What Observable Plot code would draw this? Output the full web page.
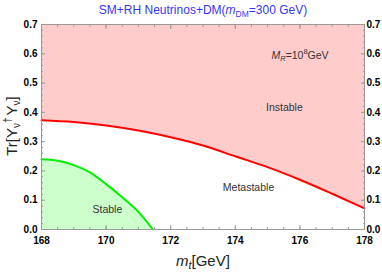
<!DOCTYPE html>
<html><head><meta charset="utf-8">
<script src="https://cdn.jsdelivr.net/npm/d3@7"></script>
<script src="https://cdn.jsdelivr.net/npm/@observablehq/plot@0.6"></script>
<style>body{margin:0;background:#fff} svg{display:block}</style>
</head><body><div id="chart"></div>
<script>
// Data
const redX = [168, 169, 170, 171, 172, 173, 174, 175, 176, 177, 178];
const redY = [0.373, 0.367, 0.355, 0.338, 0.315, 0.287, 0.250, 0.213, 0.170, 0.122, 0.072];
const greenX = [168, 168.5, 169, 169.5, 170, 170.5, 171, 171.45];
const greenY = [0.240, 0.235, 0.220, 0.195, 0.155, 0.110, 0.060, 0.0];
const xTicks = [168, 170, 172, 174, 176, 178];
const yTicks = [0, 0.1, 0.2, 0.3, 0.4, 0.5, 0.6, 0.7];
const regionNames = ["Instable", "Metastable", "Stable"];
const regionX = [175.52, 174.41, 170.04];
const regionY = [0.417, 0.144, 0.068];
const mrX = 176.02, mrY = 0.593;

const red = redX.map((x, i) => ({x, y: redY[i]}));
const green = greenX.map((x, i) => ({x, y: greenY[i]}));
const regions = regionNames.map((name, i) => ({name, x: regionX[i], y: regionY[i]}));
const minorX = d3.range(168, 178.001, 0.5);
const minorY = d3.range(0, 0.7001, 0.02);

const tickStroke = "#999";
const labelFont = {fontWeight: "bold", fontSize: 10};

const plot = Plot.plot({
  width: 382, height: 273,
  marginLeft: 41, marginRight: 18, marginTop: 24, marginBottom: 44,
  x: {domain: [168, 178]},
  y: {domain: [0, 0.7]},
  style: {fontFamily: "'Liberation Sans', Arial, sans-serif", background: "white", color: "black"},
  marks: [
    Plot.areaY(red, {x: "x", y1: "y", y2: 0.7, fill: "#ffcccc", curve: "monotone-x"}),
    Plot.areaY(green, {x: "x", y1: 0, y2: "y", fill: "#ccffcc", curve: "monotone-x"}),
    Plot.line(red, {x: "x", y: "y", stroke: "#ff0000", strokeWidth: 2, curve: "monotone-x"}),
    Plot.line(green, {x: "x", y: "y", stroke: "#00ee00", strokeWidth: 2, curve: "monotone-x"}),
    Plot.frame({stroke: tickStroke}),
    // major ticks (inward)
    Plot.axisX({anchor: "bottom", ticks: xTicks, tickSize: -4, stroke: tickStroke, fill: "none", label: null}),
    Plot.axisX({anchor: "top", ticks: xTicks, tickSize: -4, stroke: tickStroke, fill: "none", label: null}),
    Plot.axisY({anchor: "left", ticks: yTicks, tickSize: -4, stroke: tickStroke, fill: "none", label: null}),
    Plot.axisY({anchor: "right", ticks: yTicks, tickSize: -4, stroke: tickStroke, fill: "none", label: null}),
    // minor ticks
    Plot.axisX({anchor: "bottom", ticks: minorX, tickSize: -2, stroke: tickStroke, fill: "none", label: null}),
    Plot.axisX({anchor: "top", ticks: minorX, tickSize: -2, stroke: tickStroke, fill: "none", label: null}),
    Plot.axisY({anchor: "left", ticks: minorY, tickSize: -2, stroke: tickStroke, fill: "none", label: null}),
    Plot.axisY({anchor: "right", ticks: minorY, tickSize: -2, stroke: tickStroke, fill: "none", label: null}),
    // tick labels
    Plot.axisX({anchor: "bottom", ticks: xTicks, tickSize: 0, tickPadding: 7, tickFormat: "d", label: null, ...labelFont}),
    Plot.axisY({anchor: "left", ticks: yTicks, tickSize: 0, tickPadding: 4, tickFormat: ".1f", label: null, ...labelFont}),
    Plot.axisY({anchor: "right", ticks: yTicks, tickSize: 0, tickPadding: 2, tickFormat: ".1f", label: null, ...labelFont}),
    // region labels
    Plot.text(regions, {x: "x", y: "y", text: "name", fontSize: 10.5, fill: "#333"})
  ]
});

document.getElementById("chart").appendChild(plot);
const svg = d3.select(plot);
const sx = plot.scale("x"), sy = plot.scale("y");
const font = "'Liberation Sans', Arial, sans-serif";

// Title
const t = svg.append("text").attr("x", 203).attr("y", 14).attr("text-anchor", "middle")
  .attr("font-family", font).attr("font-size", 12).attr("fill", "#3535ff");
t.append("tspan").text("SM+RH Neutrinos+DM(");
t.append("tspan").attr("font-style", "italic").text("m");
t.append("tspan").attr("font-size", 8.5).attr("dy", 3).text("DM");
t.append("tspan").attr("dy", -3).text("=300 GeV)");

// x label
const xl = svg.append("text").attr("x", 203).attr("y", 266).attr("text-anchor", "middle")
  .attr("font-family", font).attr("font-size", 15).attr("fill", "#222");
xl.append("tspan").attr("font-style", "italic").text("m");
xl.append("tspan").attr("font-style", "italic").attr("font-size", 10.5).attr("dy", 3).text("t");
xl.append("tspan").attr("dy", -3).text("[GeV]");

// y label
const yl = svg.append("text").attr("transform", "translate(17,126) rotate(-90)").attr("text-anchor", "middle")
  .attr("font-family", font).attr("font-size", 15).attr("fill", "#222");
yl.append("tspan").text("Tr[Y");
yl.append("tspan").attr("font-size", 10).attr("dy", 3).text("ν");
yl.append("tspan").attr("font-size", 10).attr("dy", -9).text("†");
yl.append("tspan").attr("dy", 6).attr("dx", 2).text("Y");
yl.append("tspan").attr("font-size", 10).attr("dy", 3).text("ν");
yl.append("tspan").attr("dy", -3).text("]");

// M_R label
const mr = svg.append("text").attr("x", sx.apply(mrX)).attr("y", sy.apply(mrY) + 3.5).attr("text-anchor", "middle")
  .attr("font-family", font).attr("font-size", 10.5).attr("fill", "#333");
mr.append("tspan").attr("font-style", "italic").text("M");
mr.append("tspan").attr("font-style", "italic").attr("font-size", 7.5).attr("dy", 2).text("R");
mr.append("tspan").attr("dy", -2).text("=10");
mr.append("tspan").attr("font-size", 7.5).attr("dy", -4.5).text("8");
mr.append("tspan").attr("dy", 4.5).text("GeV");
</script>
</body></html>
